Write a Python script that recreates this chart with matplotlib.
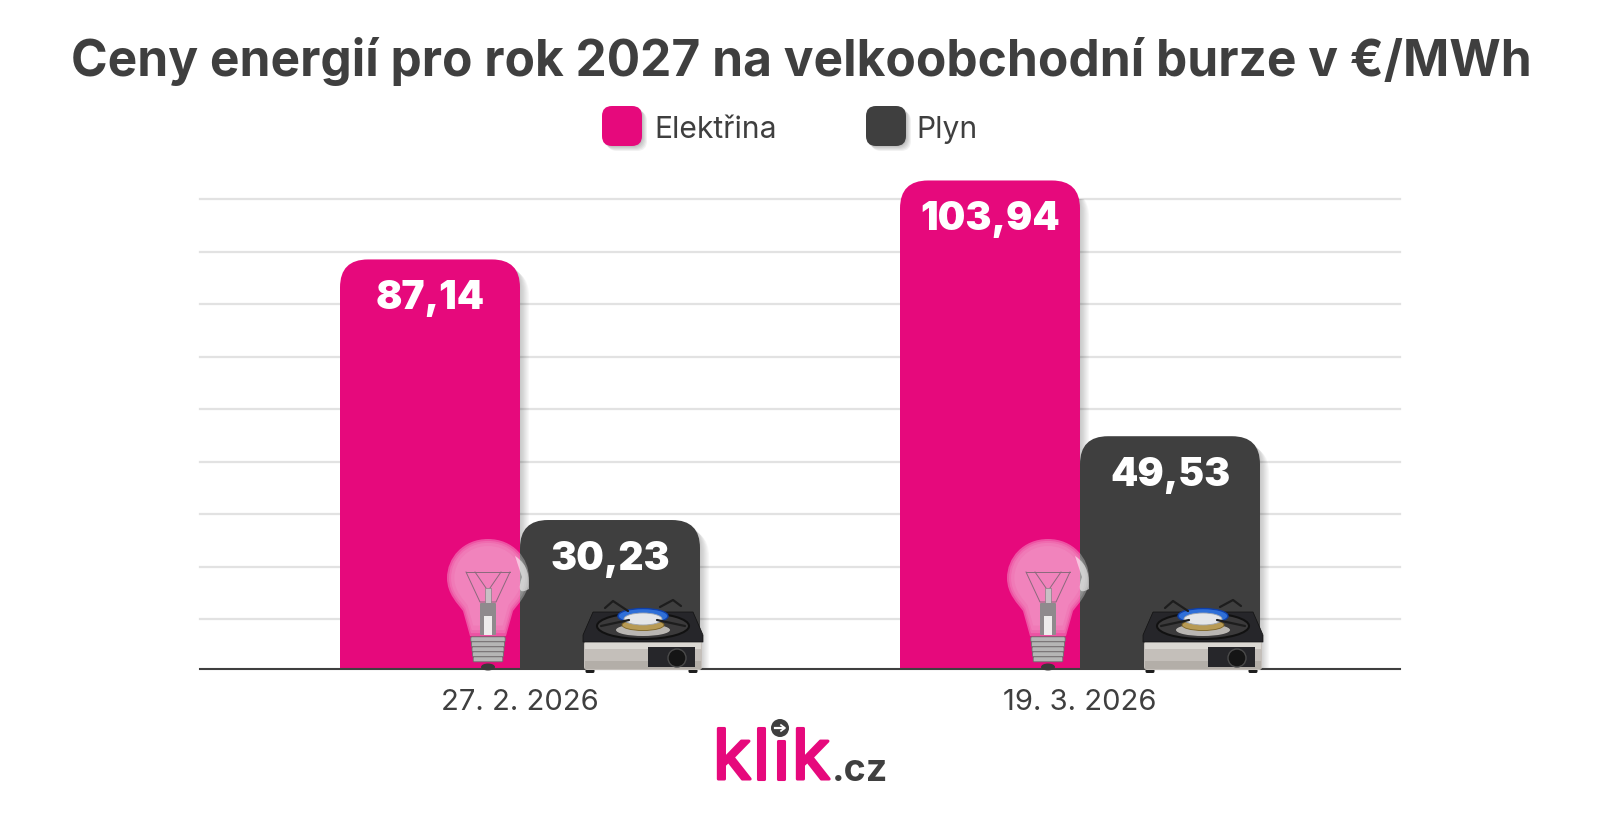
#Energy prices chart, bars with rounded tops plus the drawn bulb/stove decorations
import numpy as np
import matplotlib
matplotlib.use("Agg")
import matplotlib.pyplot as plt
import matplotlib.patheffects as pe
from matplotlib.path import Path
from matplotlib.patches import PathPatch, FancyBboxPatch, Circle, Ellipse, Rectangle

plt.rcParams['font.family'] = ['Inter', 'DejaVu Sans']

title = "Ceny energií pro rok 2027 na velkoobchodní burze v €/MWh"
dates = ["27. 2. 2026", "19. 3. 2026"]
series_names = ["Elektřina", "Plyn"]
elektrina = [87.14, 103.94]
plyn = [31.7, 49.53] #gas bar of the first group stands a bit higher than its label says
elektrina_labels = ["87,14", "103,94"]
plyn_labels = ["30,23", "49,53"]
grid_values = [10.6, 21.8, 33.0, 44.1, 55.3, 66.4, 77.6, 88.8, 100.0]

PINK = "#e6097c"
DARK = "#3f3f3f"
GRID = "#e2e2e2"

PX_X = 560.0 #pixels per group
PX_Y = 4.7 #pixels per value unit
BAR_W = 180 / PX_X
RADIUS = 28

fig = plt.figure(figsize=(16, 8.2), dpi=100, facecolor="white")
ax = fig.add_axes([200 / 1600, 1 - 670 / 820, 1200 / 1600, 470 / 820])
ax.set_xlim(-320 / PX_X, 880 / PX_X)
ax.set_ylim(0, 100)
for s in ["top", "left", "right"]:
    ax.spines[s].set_visible(False)
ax.spines["bottom"].set_color(DARK)
ax.spines["bottom"].set_linewidth(1.5)
ax.spines["bottom"].set_zorder(6)
ax.set_yticks(grid_values)
ax.set_yticklabels([])
ax.tick_params(axis="y", length=0)
ax.grid(axis="y", color=GRID, linewidth=1.6, clip_on=False)
ax.set_axisbelow(True)
ax.set_xticks([0, 1])
ax.set_xticklabels(dates, fontsize=21, color=DARK)
ax.tick_params(axis="x", length=0, pad=14)


def rounded_bar_path(x0, x1, h, dx=0.0, dy=0.0):
    rx = RADIUS / PX_X
    ry = RADIUS / PX_Y
    verts = [(x0, 0), (x0, h - ry), (x0, h), (x0 + rx, h), (x1 - rx, h), (x1, h), (x1, h - ry), (x1, 0), (x0, 0)]
    codes = [Path.MOVETO, Path.LINETO, Path.CURVE3, Path.CURVE3, Path.LINETO, Path.CURVE3, Path.CURVE3, Path.LINETO, Path.CLOSEPOLY]
    return Path([(x + dx, y + dy) for x, y in verts], codes)


def draw_bar(x0, h, color, label):
    x1 = x0 + BAR_W
    #soft shadow, right and slightly below the bar top
    for i in range(7):
        off = (i + 1) * 1.3
        ax.add_patch(PathPatch(rounded_bar_path(x0, x1, h, off / PX_X, -off / PX_Y), fc="black", ec="none", alpha=0.03, zorder=3))
    ax.add_patch(PathPatch(rounded_bar_path(x0, x1, h), fc=color, ec="none", zorder=4, clip_on=False))
    ax.text(x0 + BAR_W / 2, h - 38 / PX_Y, label, color="white", fontsize=28, fontweight="black", ha="center", va="center", zorder=5)


for i in range(len(dates)):
    draw_bar(i - BAR_W, elektrina[i], PINK, elektrina_labels[i])
    draw_bar(i, plyn[i], DARK, plyn_labels[i])

#overlay in pixel coordinates for title decorations, legend, logo
ov = fig.add_axes([0, 0, 1, 1], facecolor="none")
ov.set_xlim(0, 1600)
ov.set_ylim(820, 0)
ov.axis("off")

ov.text(801, 62, title, fontsize=35.75, fontweight="bold", color=DARK, ha="center", va="center")


def legend_item(x, color, name, text_gap):
    for i in range(5):
        off = (i + 1) * 1.0
        ov.add_patch(FancyBboxPatch((x + 10 + off, 117 + off), 20, 20, boxstyle="round,pad=10,rounding_size=10", fc="black", ec="none", alpha=0.05))
    ov.add_patch(FancyBboxPatch((x + 10, 117), 20, 20, boxstyle="round,pad=10,rounding_size=10", fc=color, ec="none"))
    ov.text(x + text_gap, 130, name, fontsize=21.6, color=DARK, ha="left", va="center")


legend_item(602, PINK, series_names[0], 52)
legend_item(866, DARK, series_names[1], 50)


def draw_bulb(cx):
    #glass outline, relative to globe centre
    top = 579
    verts = np.array([(0, -39), (25, -39), (41, -20), (41, 0), (41, 16), (30, 26), (25, 33), (18, 58),
                      (-18, 58), (-25, 33), (-30, 26), (-41, 16), (-41, 0), (-41, -20), (-25, -39), (0, -39)], float)
    codes = [Path.MOVETO, Path.CURVE4, Path.CURVE4, Path.CURVE4, Path.CURVE4, Path.CURVE4, Path.CURVE4, Path.LINETO,
             Path.LINETO, Path.LINETO, Path.CURVE4, Path.CURVE4, Path.CURVE4, Path.CURVE4, Path.CURVE4, Path.CURVE4]
    for s, a in [(1.0, 0.3), (0.95, 0.14), (0.9, 0.1), (0.82, 0.07)]:
        pts = verts * s + [cx, top]
        ov.add_patch(PathPatch(Path(pts, codes), fc="white", ec="none", alpha=a, zorder=2))
    #reflection at right edge
    crescent = Path([(cx + 27, 557), (cx + 41, 566), (cx + 41, 578), (cx + 41, 590), (cx + 27, 598), (cx + 34, 578), (cx + 27, 557)],
                    [Path.MOVETO, Path.CURVE4, Path.CURVE4, Path.CURVE4, Path.CURVE3, Path.CURVE3, Path.LINETO])
    ov.add_patch(PathPatch(crescent, fc="white", ec="none", alpha=0.55, zorder=2))
    #filament wires
    ov.plot([cx - 22, cx + 22], [573, 573], color="#8a6a7c", lw=0.7, zorder=3)
    ov.plot([cx - 22, cx - 8, cx - 2], [573, 603, 603], color="#8a6a7c", lw=0.7, zorder=3)
    ov.plot([cx + 22, cx + 8, cx + 2], [573, 603, 603], color="#8a6a7c", lw=0.7, zorder=3)
    ov.plot([cx - 13, cx - 2], [573, 589], color="#8a6a7c", lw=0.7, zorder=3)
    ov.plot([cx + 13, cx + 2], [573, 589], color="#8a6a7c", lw=0.7, zorder=3)
    #stem
    ov.add_patch(Rectangle((cx - 3, 589), 6, 16, fc="#c9bfc5", ec="#777777", lw=0.4, zorder=3))
    ov.add_patch(FancyBboxPatch((cx - 7, 605), 14, 30, boxstyle="round,pad=1", fc="#8f8a8d", ec="none", zorder=3))
    ov.add_patch(Rectangle((cx - 4, 617), 8, 19, fc="#eeecec", ec="none", zorder=3))
    #screw base
    for i, y in enumerate(np.arange(639, 664, 5)):
        w = 16 - 0.6 * i
        ov.add_patch(FancyBboxPatch((cx - w, y), 2 * w, 2.6, boxstyle="round,pad=1.2", fc="#b5b5b5", ec="#6e6e6e", lw=0.6, zorder=3))
    ov.add_patch(Ellipse((cx, 668), 14, 7, fc="#3a3a3a", ec="none", zorder=3))


def draw_stove(x):
    #feet
    for fx in (x + 4, x + 107):
        ov.add_patch(FancyBboxPatch((fx, 670), 6, 2.5, boxstyle="round,pad=1.5", fc="#1e1e1e", ec="none", zorder=7))
    #steel body
    ov.add_patch(FancyBboxPatch((x + 2, 643), 116, 27, boxstyle="round,pad=1,rounding_size=3", fc="#c4bfba", ec="none", zorder=7))
    ov.add_patch(Rectangle((x + 2, 643), 116, 7, fc="#e6e3df", ec="none", alpha=0.7, zorder=7))
    ov.add_patch(Rectangle((x + 2, 662), 116, 8, fc="#a8a39d", ec="none", alpha=0.6, zorder=7))
    #control panel with knob
    ov.add_patch(Rectangle((x + 65, 648), 47, 20, fc="#26262a", ec="none", zorder=7))
    ov.add_patch(Circle((x + 94, 659), 9, fc="#151515", ec="#4a4a4a", lw=1, zorder=8))
    #black top
    top = [(x + 10, 613), (x + 110, 613), (x + 120, 636), (x + 120, 643), (x, 643), (x, 636), (x + 10, 613)]
    ov.add_patch(PathPatch(Path(top), fc="#26262a", ec="#111111", lw=0.5, joinstyle="round", zorder=7))
    ov.add_patch(Ellipse((x + 60, 627), 92, 26, fc="#3b3a3b", ec="#111111", lw=1.5, zorder=7))
    #burner
    ov.add_patch(Ellipse((x + 60, 631), 54, 12, fc="#b9b6b2", ec="none", zorder=7))
    ov.add_patch(Ellipse((x + 60, 626), 42, 11, fc="#b79a55", ec="#7c6324", lw=0.6, zorder=7))
    ov.add_patch(Ellipse((x + 60, 617), 50, 15, fc="#2f6fd8", ec="#0f3fa8", lw=1, zorder=7))
    ov.add_patch(Ellipse((x + 60, 620), 38, 12, fc="#e4e6ea", ec="#9fa6b0", lw=0.6, zorder=8))
    #pan supports
    for xs, ys in [([x + 22, x + 30, x + 45], [609, 602, 612]), ([x + 98, x + 90, x + 77], [607, 601, 608]),
                   ([x + 18, x + 46], [627, 621]), ([x + 102, x + 74], [627, 621])]:
        ov.plot(xs, ys, color="#1d1d1d", lw=1.6, solid_capstyle="round", zorder=8)


for off in (0, 560):
    draw_bulb(488 + off)
    draw_stove(583 + off)

#logo, one text per letter for the wide spacing, the dotless i gets the round arrow dot
round_stroke = [pe.withStroke(linewidth=2.2, foreground=PINK, joinstyle="round", capstyle="round")]
for letter, lx in zip(["k", "l", "\u0131", "k"], [713, 753, 773, 792]):
    ov.text(lx, 780, letter, fontsize=50, color=PINK, ha="left", va="baseline", path_effects=round_stroke)
ov.add_patch(Circle((780, 729), 9, fc=DARK, ec="none"))
ov.plot([775, 784], [729, 729], color="white", lw=1.6)
ov.plot([781, 785, 781], [726, 729, 732], color="white", lw=1.2)
ov.text(832, 781, ".cz", fontsize=27, fontweight="bold", color=DARK, ha="left", va="baseline")

fig.savefig("out.png", dpi=100)
